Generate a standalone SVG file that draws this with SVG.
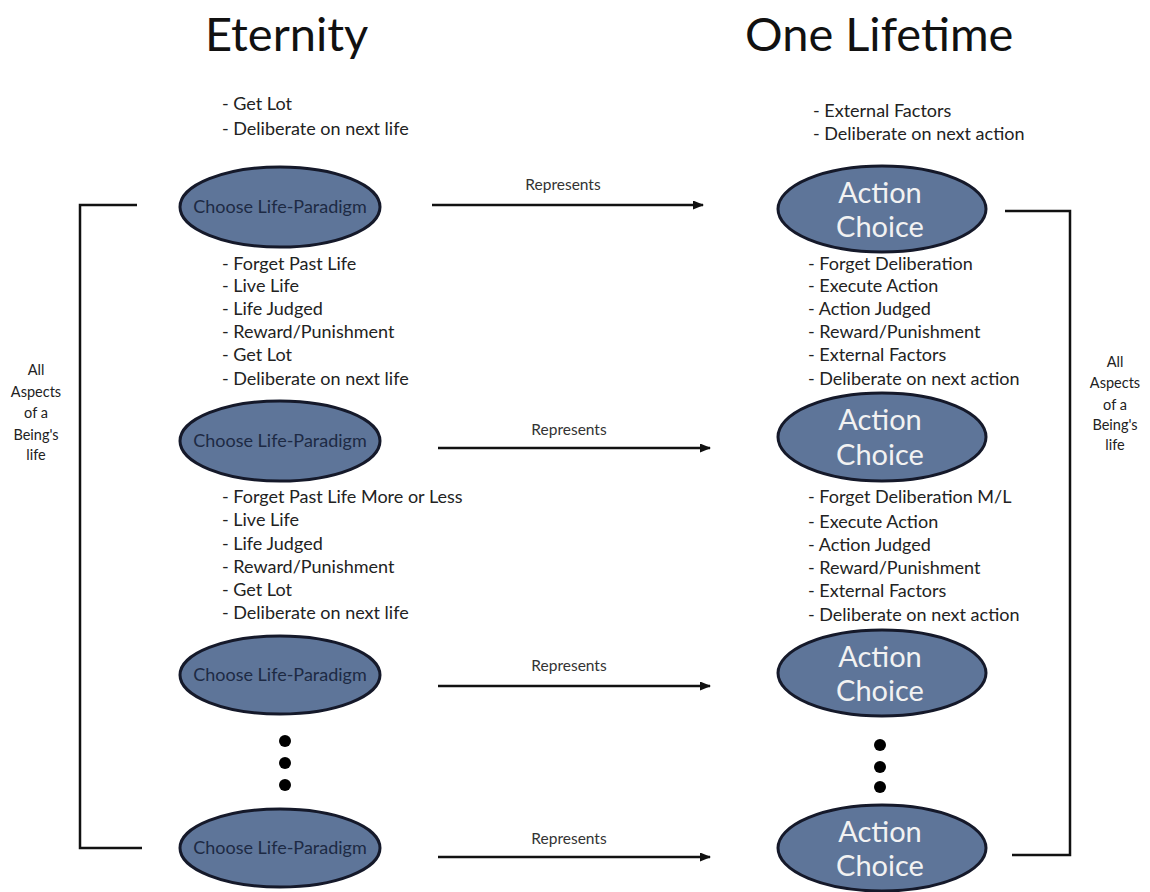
<svg xmlns="http://www.w3.org/2000/svg" width="1150" height="892" viewBox="0 0 1150 892">
<defs>
<marker id="ah" markerWidth="11" markerHeight="9" refX="10" refY="4.5" orient="auto" markerUnits="userSpaceOnUse">
<path d="M0,0 L11,4.5 L0,9 z" fill="#111"/>
</marker>
<style>
.ell{fill:#5e7599;stroke:#15192a;stroke-width:3}
.lt{font-family:Lato,"Open Sans",sans-serif;font-size:18px;fill:#1d2a44;text-anchor:middle}
.rt{font-family:Lato,"Open Sans",sans-serif;font-size:29px;fill:#f2f2f2;text-anchor:middle}
.title{font-family:Lato,"Open Sans",sans-serif;font-size:47px;fill:#111}
.lst{font-family:Lato,"Open Sans",sans-serif;font-size:18px;fill:#222}
.lbl{font-family:Lato,"Open Sans",sans-serif;font-size:15.5px;fill:#333;text-anchor:middle}
.side{font-family:Lato,"Open Sans",sans-serif;font-size:14.5px;fill:#222;text-anchor:middle}
.ln{stroke:#111;stroke-width:2.5;fill:none}
</style>
</defs>
<rect width="1150" height="892" fill="#fff"/>
<text class="title" x="205" y="51">Eternity</text>
<text class="title" x="745" y="51">One Lifetime</text>

<g id="notes">
<text class="lst" x="222" y="110">- Get Lot</text>
<text class="lst" x="222" y="135">- Deliberate on next life</text>
<text class="lst" x="222" y="270">- Forget Past Life</text>
<text class="lst" x="222" y="292">- Live Life</text>
<text class="lst" x="222" y="315">- Life Judged</text>
<text class="lst" x="222" y="338">- Reward/Punishment</text>
<text class="lst" x="222" y="361">- Get Lot</text>
<text class="lst" x="222" y="385">- Deliberate on next life</text>
<text class="lst" x="222" y="503">- Forget Past Life More or Less</text>
<text class="lst" x="222" y="526">- Live Life</text>
<text class="lst" x="222" y="550">- Life Judged</text>
<text class="lst" x="222" y="573">- Reward/Punishment</text>
<text class="lst" x="222" y="596">- Get Lot</text>
<text class="lst" x="222" y="619">- Deliberate on next life</text>

<text class="lst" x="813" y="117">- External Factors</text>
<text class="lst" x="813" y="140">- Deliberate on next action</text>
<text class="lst" x="808" y="270">- Forget Deliberation</text>
<text class="lst" x="808" y="292">- Execute Action</text>
<text class="lst" x="808" y="315">- Action Judged</text>
<text class="lst" x="808" y="338">- Reward/Punishment</text>
<text class="lst" x="808" y="361">- External Factors</text>
<text class="lst" x="808" y="385">- Deliberate on next action</text>
<text class="lst" x="808" y="503">- Forget Deliberation M/L</text>
<text class="lst" x="808" y="528">- Execute Action</text>
<text class="lst" x="808" y="551">- Action Judged</text>
<text class="lst" x="808" y="574">- Reward/Punishment</text>
<text class="lst" x="808" y="597">- External Factors</text>
<text class="lst" x="808" y="621">- Deliberate on next action</text>

<text class="side" x="36" y="375">All</text>
<text class="side" x="36" y="397">Aspects</text>
<text class="side" x="36" y="418">of a</text>
<text class="side" x="36" y="440">Being's</text>
<text class="side" x="36" y="460">life</text>
<text class="side" x="1115" y="367">All</text>
<text class="side" x="1115" y="388">Aspects</text>
<text class="side" x="1115" y="410">of a</text>
<text class="side" x="1115" y="430">Being's</text>
<text class="side" x="1115" y="450">life</text>
</g>

<g id="L1"><ellipse class="ell" cx="280" cy="207" rx="100" ry="40"/><text class="lt" x="280" y="213">Choose Life-Paradigm</text></g>
<g id="L2"><ellipse class="ell" cx="280" cy="441" rx="100" ry="40"/><text class="lt" x="280" y="447">Choose Life-Paradigm</text></g>
<g id="L3"><ellipse class="ell" cx="280" cy="675" rx="100" ry="39"/><text class="lt" x="280" y="681">Choose Life-Paradigm</text></g>
<g id="L4"><ellipse class="ell" cx="280" cy="848" rx="100" ry="39"/><text class="lt" x="280" y="854">Choose Life-Paradigm</text></g>

<g id="R1"><ellipse class="ell" cx="882" cy="209" rx="104" ry="43"/><text class="rt" x="880" y="203">Action</text><text class="rt" x="880" y="237">Choice</text></g>
<g id="R2"><ellipse class="ell" cx="882" cy="437" rx="104" ry="44"/><text class="rt" x="880" y="430">Action</text><text class="rt" x="880" y="465">Choice</text></g>
<g id="R3"><ellipse class="ell" cx="882" cy="673" rx="104" ry="43"/><text class="rt" x="880" y="667">Action</text><text class="rt" x="880" y="701">Choice</text></g>
<g id="R4"><ellipse class="ell" cx="882" cy="848" rx="104" ry="43"/><text class="rt" x="880" y="842">Action</text><text class="rt" x="880" y="876">Choice</text></g>

<g id="dots" fill="#000">
<circle cx="285" cy="741" r="6"/><circle cx="285" cy="763" r="6"/><circle cx="285" cy="785" r="6"/>
<circle cx="880" cy="745" r="6"/><circle cx="880" cy="767" r="6"/><circle cx="880" cy="787" r="6"/>
</g>

<g id="connectors">
<line class="ln" x1="432" y1="205" x2="703" y2="205" marker-end="url(#ah)"/>
<text class="lbl" x="563" y="190">Represents</text>
<line class="ln" x1="438" y1="448" x2="710" y2="448" marker-end="url(#ah)"/>
<text class="lbl" x="569" y="435">Represents</text>
<line class="ln" x1="438" y1="686" x2="710" y2="686" marker-end="url(#ah)"/>
<text class="lbl" x="569" y="671">Represents</text>
<line class="ln" x1="438" y1="857" x2="710" y2="857" marker-end="url(#ah)"/>
<text class="lbl" x="569" y="844">Represents</text>
<polyline class="ln" points="137,205 80,205 80,848 142,848"/>
<polyline class="ln" points="1005,211 1070,211 1070,855 1012,855"/>
</g>
</svg>
